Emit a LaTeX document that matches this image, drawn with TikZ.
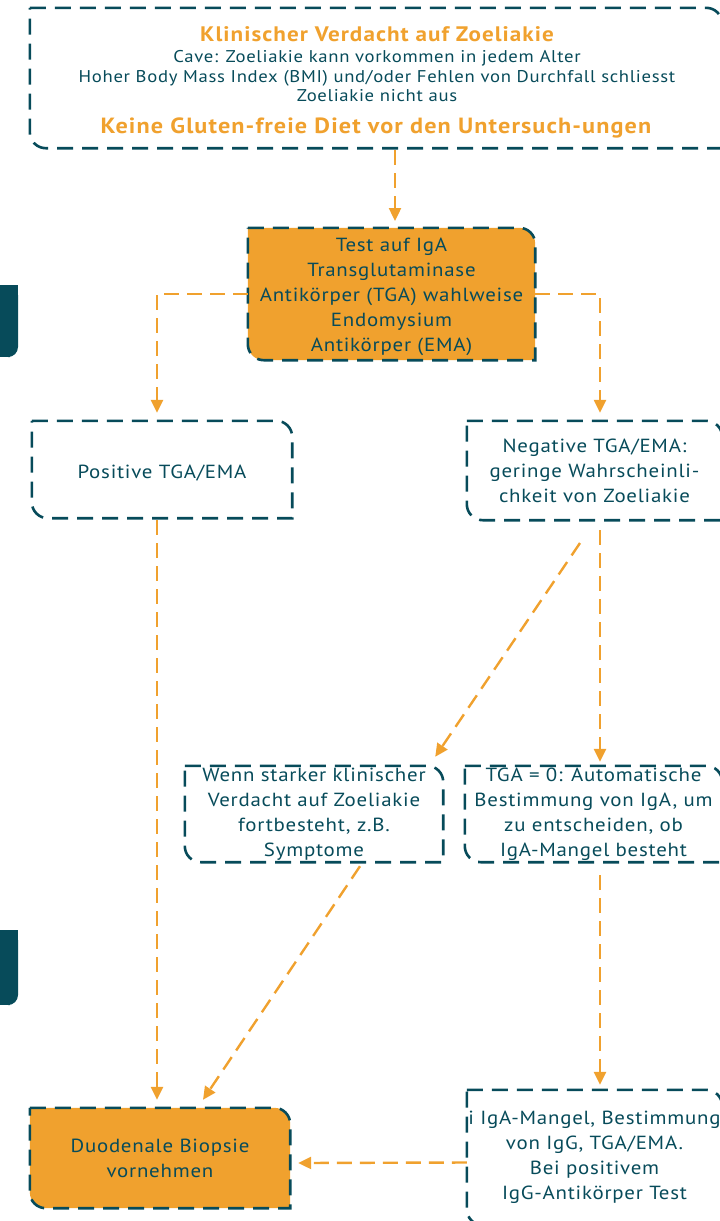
\documentclass[tikz,border=0pt]{standalone}
\usepackage{fontspec}
\setmainfont{PT Sans}
\newfontfamily\bodyf[FakeStretch=1.1,LetterSpace=4]{PT Sans}
\newfontfamily\ttlf[FakeStretch=1.1,LetterSpace=5]{PT Sans}
\usetikzlibrary{arrows.meta,calc}
\definecolor{dteal}{HTML}{074B5A}
\definecolor{orng}{HTML}{F0A12E}
\pgfdeclarelayer{bg}
\pgfsetlayers{bg,main}
\newcommand\cutframe[2][]{%
  \path[#1] (#2.north west) -- ([xshift=-16pt]#2.north east)
    arc[start angle=90,end angle=0,radius=16pt] -- (#2.south east)
    -- ([xshift=16pt]#2.south west)
    arc[start angle=270,end angle=180,radius=16pt] -- cycle;}
\tikzset{
  frame/.style={draw=dteal, line width=2.6pt, dash pattern=on 16pt off 9pt},
  conn/.style={draw=orng, line width=2.4pt, dash pattern=on 15pt off 8pt,
    -{Triangle[width=12pt,length=13pt]}},
  box/.style={inner sep=0pt, align=center, text=dteal,
    font=\bodyf\fontsize{19}{25}\selectfont},
  line/.style={inner sep=0pt, anchor=base, text=dteal, font=\bodyf\fontsize{17}{20}\selectfont},
  ttl/.style={inner sep=0pt, anchor=base, text=orng, font=\ttlf\bfseries\fontsize{21}{24}\selectfont},
  bar/.style={fill=dteal, draw=none}
}
\begin{document}
\begin{tikzpicture}[x=1pt,y=-1pt]
\useasboundingbox (0,0) rectangle (720,1221);
% left bars
\path[bar, rounded corners=10pt] (0,285) -- (0,357) -- (18,357) -- (18,285) -- cycle;
\path[bar] (0,285) rectangle (10,357);
\path[bar] (0,285) rectangle (18,300);
\path[bar] (0,930) rectangle (10,1005);
\path[bar] (0,930) rectangle (18,945);
\path[bar, rounded corners=10pt] (0,930) -- (0,1005) -- (18,1005) -- (18,930) -- cycle;
% top box
\node[box, minimum width=692pt, minimum height=140pt] (top) at (376,78) {};
\node[ttl] (t1) at (377,41) {Klinischer Verdacht auf Zoeliakie};
\node[line] (t2a) at (377,62.5) {Cave: Zoeliakie kann vorkommen in jedem Alter};
\node[line] (t2b) at (377,82) {Hoher Body Mass Index (BMI) und/oder Fehlen von Durchfall schliesst};
\node[line] (t2c) at (377,101.5) {Zoeliakie nicht aus};
\node[ttl, font=\ttlf\bfseries\fontsize{22}{26}\selectfont] (t3) at (376,133) {Keine Gluten-freie Diet vor den Untersuch-ungen};
\cutframe[frame]{top}
% middle
\node[box, minimum width=287pt, minimum height=132pt] (mid) at (391.5,294) {\raisebox{-2.5pt}[\height][\depth]{Test auf IgA}\\\raisebox{-2.5pt}[\height][\depth]{Transglutaminase}\\\raisebox{-2.5pt}[\height][\depth]{Antikörper (TGA) wahlweise}\\\raisebox{-2.5pt}[\height][\depth]{Endomysium}\\\raisebox{-2.5pt}[\height][\depth]{Antikörper (EMA)}};
\begin{pgfonlayer}{bg}\cutframe[fill=orng]{mid}\end{pgfonlayer}
\cutframe[frame]{mid}
% level 2
\node[box, minimum width=260pt, minimum height=97pt] (pos) at (162,469.5) {\raisebox{-4pt}[\height][\depth]{Positive TGA/EMA}};
\cutframe[frame]{pos}
\node[box, minimum width=255pt, minimum height=99pt] (neg) at (594.5,470.5) {Negative TGA/EMA:\\geringe Wahrscheinli-\\chkeit von Zoeliakie};
\cutframe[frame]{neg}
% level 3
\node[box, minimum width=258pt, minimum height=96pt] (wenn) at (314,814) {Wenn starker klinischer\\Verdacht auf Zoeliakie\\fortbesteht, z.B.\\Symptome};
\cutframe[frame]{wenn}
\node[box, minimum width=257pt, minimum height=96pt] (tga) at (593.5,814) {TGA = 0: Automatische\\Bestimmung von IgA, um\\zu entscheiden, ob\\IgA-Mangel besteht};
\cutframe[frame]{tga}
% level 4
\node[box, minimum width=260pt, minimum height=100pt] (dd) at (160,1158) {Duodenale Biopsie\\vornehmen};
\begin{pgfonlayer}{bg}\cutframe[fill=orng]{dd}\end{pgfonlayer}
\cutframe[frame]{dd}
\node[box, minimum width=255pt, minimum height=135pt] (iga) at (594.5,1157.5) {i IgA-Mangel, Bestimmung\\von IgG, TGA/EMA.\\Bei positivem\\IgG-Antikörper Test};
\cutframe[frame]{iga}
% connectors
\coordinate (a1s) at (395,150);
\coordinate (a1e) at (395,221);
\draw[conn] (a1s) -- (a1e);
\draw[conn] (mid.west) -| ([xshift=-5pt,yshift=8pt]pos.north);
\draw[conn] (mid.east) -| ([xshift=5.5pt,yshift=8pt]neg.north);
\draw[conn] ([xshift=-5pt,yshift=-2pt]pos.south) -- ([xshift=-3pt,yshift=8pt]dd.north);
\coordinate (d1s) at (580,543);
\draw[conn] (d1s) -- ([xshift=-8pt,yshift=9pt]wenn.north east);
\draw[conn] ([xshift=5.5pt,yshift=-10pt]neg.south) -- ([xshift=6.5pt,yshift=4pt]tga.north);
\draw[conn] ([xshift=46pt,yshift=-4pt]wenn.south) -- ([xshift=43pt,yshift=8pt]dd.north);
\draw[conn] ([xshift=6.5pt,yshift=-13pt]tga.south) -- ([xshift=5.5pt,yshift=5pt]iga.north);
\draw[conn] ([yshift=-5pt]iga.west) -- ([xshift=8pt,yshift=-5pt]dd.east);
\end{tikzpicture}
\end{document}
